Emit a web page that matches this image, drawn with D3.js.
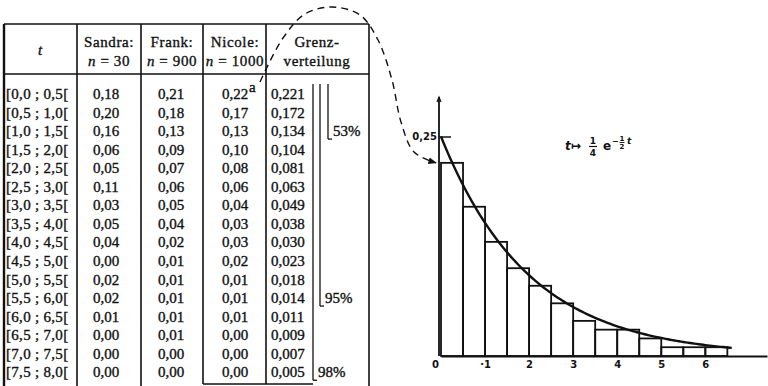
<!DOCTYPE html>
<html>
<head>
<meta charset="utf-8">
<script src="https://cdn.jsdelivr.net/npm/d3@7"></script>
<style>
  body { margin: 0; background: #fff; }
  svg { display: block; }
  .tbl text { font-family: "Liberation Serif", serif; font-size: 15px; fill: #111; stroke: #111; stroke-width: 0.35px; }
  .axis text { font-family: "DejaVu Sans", sans-serif; font-size: 10px; fill: #111; }
</style>
</head>
<body>
<svg id="chart" width="768" height="386"></svg>
<script>
// table data (relative frequencies per interval)
const intervals = ['[0,0 ; 0,5[', '[0,5 ; 1,0[', '[1,0 ; 1,5[', '[1,5 ; 2,0[',
  '[2,0 ; 2,5[', '[2,5 ; 3,0[', '[3,0 ; 3,5[', '[3,5 ; 4,0[',
  '[4,0 ; 4,5[', '[4,5 ; 5,0[', '[5,0 ; 5,5[', '[5,5 ; 6,0[',
  '[6,0 ; 6,5[', '[6,5 ; 7,0[', '[7,0 ; 7,5[', '[7,5 ; 8,0['];
const binStart = [0, 0.5, 1, 1.5, 2, 2.5, 3, 3.5, 4, 4.5, 5, 5.5, 6, 6.5, 7, 7.5];
const sandra = [0.18, 0.20, 0.16, 0.06, 0.05, 0.11, 0.03, 0.05, 0.04, 0.00, 0.02, 0.02, 0.01, 0.00, 0.00, 0.00];
const frank  = [0.21, 0.18, 0.13, 0.09, 0.07, 0.06, 0.05, 0.04, 0.02, 0.01, 0.01, 0.01, 0.01, 0.01, 0.00, 0.00];
const nicole = [0.22, 0.17, 0.13, 0.10, 0.08, 0.06, 0.04, 0.03, 0.03, 0.02, 0.01, 0.01, 0.01, 0.00, 0.00, 0.00];
const grenz  = [0.221, 0.172, 0.134, 0.104, 0.081, 0.063, 0.049, 0.038, 0.030, 0.023, 0.018, 0.014, 0.011, 0.009, 0.007, 0.005];
const brackets = [{label: '53%', lastRow: 2}, {label: '95%', lastRow: 11}, {label: '98%', lastRow: 15}];
const xTicks = [0, 1, 2, 3, 4, 5, 6];
const yTicks = [0.25];

const svg = d3.select('#chart');
const fmt = (d, k) => d.toFixed(k).replace('.', ',');

// ---------- table ----------
const tbl = svg.append('g').attr('class', 'tbl');
const colX = [4, 77, 141, 203, 266, 369];
const tblTop = 24, headBottom = 74, rowY0 = 99, rowH = 18.55;
const rowY = d3.scaleLinear().domain([0, 1]).range([rowY0, rowY0 + rowH]);

const line = (x1, y1, x2, y2, w) => tbl.append('line')
  .attr('x1', x1).attr('y1', y1).attr('x2', x2).attr('y2', y2)
  .attr('stroke', '#111').attr('stroke-width', w || 1.6);

line(colX[0], tblTop, colX[5], tblTop);
line(colX[0], headBottom, colX[5], headBottom);
[0, 1, 2, 5].forEach(i => line(colX[i], tblTop, colX[i], 386, i === 0 ? 2.4 : 1.6));
[3, 4].forEach(i => line(colX[i], tblTop, colX[i], 384));
line(colX[3], 384, 313, 384);

// header
const head = tbl.append('g');
head.append('text').attr('x', 40).attr('y', 55).attr('text-anchor', 'middle')
  .attr('font-style', 'italic').text('t');
const heads = [
  {name: 'Sandra:', n: '30', cx: 109},
  {name: 'Frank:', n: '900', cx: 172},
  {name: 'Nicole:', n: '1000', cx: 235}
];
heads.forEach(h => {
  head.append('text').attr('x', h.cx).attr('y', 47).attr('text-anchor', 'middle')
    .attr('letter-spacing', 0.6).text(h.name);
  const t = head.append('text').attr('x', h.cx).attr('y', 66).attr('text-anchor', 'middle')
    .attr('letter-spacing', 0.6);
  t.append('tspan').attr('font-style', 'italic').text('n');
  t.append('tspan').text(' = ' + h.n);
});
head.append('text').attr('x', 317).attr('y', 47).attr('text-anchor', 'middle')
  .attr('letter-spacing', 0.6).text('Grenz-');
head.append('text').attr('x', 317).attr('y', 66).attr('text-anchor', 'middle')
  .attr('letter-spacing', 0.6).text('verteilung');

// body
const body = tbl.append('g');
intervals.forEach((lab, i) => {
  const y = rowY(i);
  body.append('text').attr('x', 6).attr('y', y).attr('letter-spacing', 0.3).text(lab);
  body.append('text').attr('x', 106).attr('y', y).attr('text-anchor', 'middle').text(fmt(sandra[i], 2));
  body.append('text').attr('x', 171).attr('y', y).attr('text-anchor', 'middle').text(fmt(frank[i], 2));
  body.append('text').attr('x', 235).attr('y', y).attr('text-anchor', 'middle').text(fmt(nicole[i], 2));
  body.append('text').attr('x', 271).attr('y', y).text(fmt(grenz[i], 3));
});
// tiny mark after Nicole's first value
body.append('text').attr('x', 249).attr('y', rowY(0) - 7).attr('font-size', 7).text('a');

// cumulative brackets
const bx = [328, 320, 313];
brackets.forEach((b, i) => {
  const x = bx[i];
  const yEnd = rowY(b.lastRow) + 3;
  line(x, 84, x, yEnd, 1.3);
  line(x, yEnd, x + 4, yEnd, 1.3);
  tbl.append('text').attr('x', x + 5).attr('y', rowY(b.lastRow)).text(b.label);
});

// ---------- histogram ----------
const x = d3.scaleLinear().domain([0, 7.4]).range([441, 767]);
const y = d3.scaleLinear().domain([0, 0.295]).range([356, 97]);
const plot = svg.append('g');

const bars = binStart.map((s, i) => ({x0: s, x1: s + 0.5, v: nicole[i]})).filter(d => d.v > 0);
plot.selectAll('rect.bar').data(bars).join('rect')
  .attr('class', 'bar')
  .attr('x', d => x(d.x0)).attr('width', d => x(d.x1) - x(d.x0))
  .attr('y', d => y(d.v)).attr('height', d => y(0) - y(d.v))
  .attr('fill', 'none').attr('stroke', '#111').attr('stroke-width', 1.8);

// limit density curve  t -> 1/4 e^(-t/2)
const curveT = d3.range(0, 6.62, 0.05);
plot.append('path')
  .datum(curveT)
  .attr('d', d3.line().x(t => x(t)).y(t => y(0.25 * Math.exp(-t / 2))))
  .attr('fill', 'none').attr('stroke', '#111').attr('stroke-width', 2.4);

// axes
const xAxis = plot.append('g').attr('class', 'axis')
  .attr('transform', `translate(0,${y(0)})`)
  .call(d3.axisBottom(x).tickValues(xTicks).tickSize(0).tickPadding(5)
    .tickFormat(d => d === 1 ? '·1' : d));
xAxis.select('.domain').attr('stroke', '#111').attr('stroke-width', 1.8);
xAxis.selectAll('.tick').filter(d => d === 0).select('text').attr('dx', -6);
xAxis.selectAll('.tick text').attr('font-weight', 'bold');

const yAxis = plot.append('g').attr('class', 'axis')
  .attr('transform', `translate(${x(0) - 2},0)`)
  .call(d3.axisLeft(y).tickValues(yTicks).tickSize(-12).tickPadding(3)
    .tickFormat(d => fmt(d, 2)));
yAxis.select('.domain').remove();
yAxis.selectAll('.tick line').attr('stroke', '#111').attr('stroke-width', 1.5);
yAxis.selectAll('.tick text').attr('x', -2).attr('font-size', 9).attr('font-weight', 'bold');
plot.append('line')
  .attr('x1', x(0) - 2).attr('x2', x(0) - 2).attr('y1', y(0)).attr('y2', y.range()[1])
  .attr('stroke', '#111').attr('stroke-width', 1.8);
plot.append('path')
  .attr('d', `M${x(0) - 4},${y.range()[1] + 5}L${x(0) - 2},${y.range()[1]}L${x(0)},${y.range()[1] + 5}`)
  .attr('fill', 'none').attr('stroke', '#111').attr('stroke-width', 1.2);

// formula label
const fx = 565, fy = 150;
const f = svg.append('g').attr('font-family', 'DejaVu Sans, sans-serif').attr('fill', '#111')
  .attr('font-weight', 'bold');
f.append('text').attr('x', fx).attr('y', fy).attr('font-size', 12).attr('font-style', 'italic').text('t');
f.append('text').attr('x', fx + 6).attr('y', fy).attr('font-size', 12).text('↦');
f.append('text').attr('x', fx + 28).attr('y', fy - 6).attr('font-size', 9).attr('text-anchor', 'middle').text('1');
f.append('line').attr('x1', fx + 24).attr('x2', fx + 32).attr('y1', fy - 3.5).attr('y2', fy - 3.5)
  .attr('stroke', '#111').attr('stroke-width', 1.2);
f.append('text').attr('x', fx + 28).attr('y', fy + 6).attr('font-size', 9).attr('text-anchor', 'middle').text('4');
f.append('text').attr('x', fx + 38).attr('y', fy).attr('font-size', 12).text('e');
f.append('text').attr('x', fx + 47).attr('y', fy - 6).attr('font-size', 8).text('−');
f.append('text').attr('x', fx + 57).attr('y', fy - 9).attr('font-size', 7).attr('text-anchor', 'middle').text('1');
f.append('line').attr('x1', fx + 54.5).attr('x2', fx + 59.5).attr('y1', fy - 7.5).attr('y2', fy - 7.5)
  .attr('stroke', '#111').attr('stroke-width', 0.9);
f.append('text').attr('x', fx + 57).attr('y', fy - 1.5).attr('font-size', 7).attr('text-anchor', 'middle').text('2');
f.append('text').attr('x', fx + 62).attr('y', fy - 6).attr('font-size', 9).attr('font-style', 'italic').text('t');

// dashed connector from Nicole's first cell to the first bar
svg.append('defs').append('marker')
  .attr('id', 'arr').attr('viewBox', '0 0 10 10').attr('refX', 9).attr('refY', 5)
  .attr('markerWidth', 6).attr('markerHeight', 6).attr('orient', 'auto')
  .append('path').attr('d', 'M0,1L10,5L0,9Z').attr('fill', '#111');
const pStart = [260, rowY(0) - 17];
const pEnd = [x(0) - 5, y(nicole[0])];
const via = [[283, 38], [305, 14], [332, 7], [360, 15], [378, 40], [392, 80], [401, 122], [414, 152]];
svg.append('path')
  .attr('d', d3.line().curve(d3.curveCatmullRom)([pStart, ...via, pEnd]))
  .attr('fill', 'none').attr('stroke', '#111').attr('stroke-width', 1.4)
  .attr('stroke-dasharray', '7,5').attr('marker-end', 'url(#arr)');
</script>
</body>
</html>
